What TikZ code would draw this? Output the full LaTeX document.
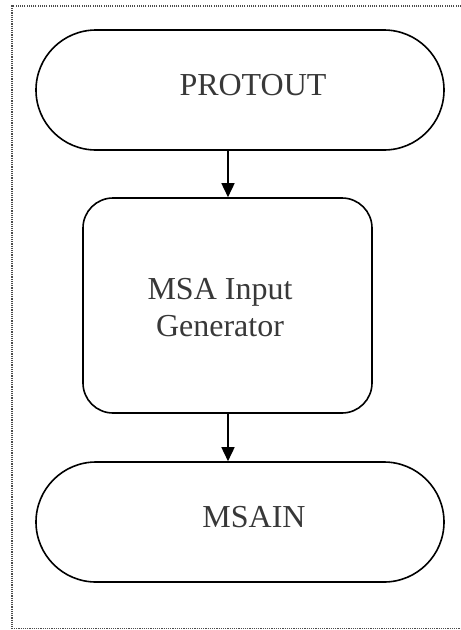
\documentclass[tikz,border=0pt]{standalone}
\usepackage{fontspec}
\setmainfont{Liberation Serif}
\usetikzlibrary{arrows.meta}
\begin{document}
\begin{tikzpicture}[x=1pt,y=-1pt,
  shapeline/.style={draw=black,line width=1.6pt,fill=white,inner sep=0pt},
  terminal/.style={shapeline,rounded corners=60pt,minimum width=408pt,minimum height=120pt},
  procbox/.style={shapeline,rounded corners=30pt,minimum width=289pt,minimum height=215pt},
  label/.style={text=black!78,font=\fontsize{32}{37}\selectfont,align=center,inner sep=0pt},
  arr/.style={line width=1.6pt,-{Triangle[length=14pt,width=13pt]}},
  frame/.style={draw=black!70,line width=1.1pt,dash pattern=on 1.1pt off 1.1pt}
]
\useasboundingbox (0,0) rectangle (461,630);
% dotted frame, open on the right
\draw[frame] (461,6) -- (12,6) -- (12,628.5) -- (461,628.5);

% flow shapes
\node[terminal] (top) at (240,90) {};
\node[procbox] (mid) at (227.5,305.5) {};
\node[terminal] (bot) at (240,522) {};

% texts
\node[label] (toptext) at (253,85) {PROTOUT};
\node[label] (midtext) at (220,308) {MSA Input\\Generator};
\node[label] (bottext) at (254,517) {MSAIN};

% connectors
\coordinate (ax) at (228,0);
\draw[arr] (top.south -| ax) -- (mid.north -| ax);
\draw[arr] (mid.south -| ax) -- (bot.north -| ax);
\end{tikzpicture}
\end{document}
